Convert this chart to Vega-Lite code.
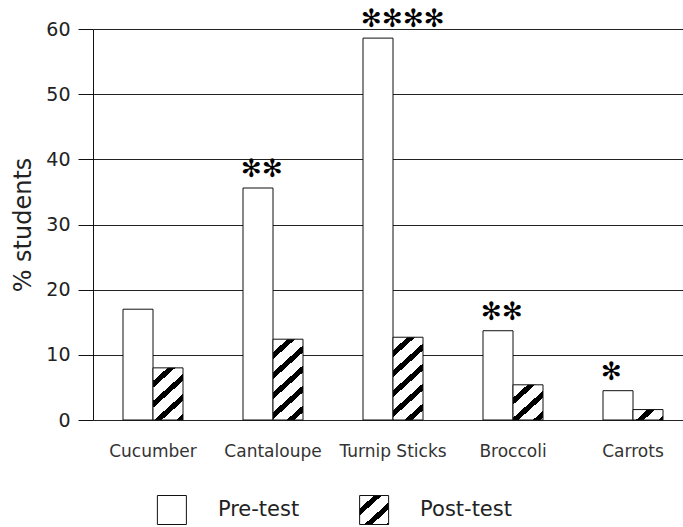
{
  "$schema": "https://vega.github.io/schema/vega-lite/v6.json",
  "background": "white",
  "padding": {"left": 11, "top": 7, "right": 0, "bottom": 0},
  "config": {
    "font": "DejaVu Sans",
    "view": {"stroke": null}
  },
  "bounds": "flush",
  "spacing": 75,
  "vconcat": [
    {
      "width": 600,
      "height": 391,
      "data": {
        "values": [
          {"food": "Cucumber", "test": "Pre-test", "pct": 17},
          {"food": "Cucumber", "test": "Post-test", "pct": 8},
          {"food": "Cantaloupe", "test": "Pre-test", "pct": 35.6, "sig": "✻✻"},
          {"food": "Cantaloupe", "test": "Post-test", "pct": 12.4},
          {"food": "Turnip Sticks", "test": "Pre-test", "pct": 58.6, "sig": "✻✻✻✻"},
          {"food": "Turnip Sticks", "test": "Post-test", "pct": 12.7},
          {"food": "Broccoli", "test": "Pre-test", "pct": 13.7, "sig": "✻✻"},
          {"food": "Broccoli", "test": "Post-test", "pct": 5.4},
          {"food": "Carrots", "test": "Pre-test", "pct": 4.5, "sig": "✻"},
          {"food": "Carrots", "test": "Post-test", "pct": 1.6}
        ]
      },
      "encoding": {
        "x": {
          "field": "food",
          "type": "nominal",
          "sort": null,
          "scale": {"paddingInner": 0.5, "paddingOuter": 0.25},
          "axis": {
            "title": null,
            "domain": false,
            "ticks": false,
            "labelAngle": 0,
            "labelFontSize": 17,
            "labelColor": "#333",
            "labelPadding": 23
          }
        },
        "xOffset": {
          "field": "test",
          "type": "nominal",
          "scale": {"domain": ["Pre-test", "Post-test"], "paddingInner": 0, "paddingOuter": 0}
        },
        "y": {
          "field": "pct",
          "type": "quantitative",
          "scale": {"domain": [0, 60], "nice": false},
          "axis": {
            "title": "% students",
            "titleFontSize": 24,
            "titleFontWeight": "normal",
            "titleColor": "#222",
            "titlePadding": 10,
            "values": [0, 10, 20, 30, 40, 50, 60],
            "labelFontSize": 19,
            "labelColor": "#222",
            "labelPadding": 8,
            "tickSize": 15,
            "tickColor": "#111",
            "domainColor": "#111",
            "grid": true,
            "gridColor": "#222",
            "gridOpacity": 1
          }
        }
      },
      "layer": [
        {
          "mark": {"type": "bar", "stroke": "#111", "strokeWidth": 1},
          "encoding": {
            "fill": {
              "condition": [
                {"test": "datum.test === 'Pre-test'", "value": "white"},
                {
                  "test": "datum.food === 'Cucumber'",
                  "value": {
                    "gradient": "linear", "x1": 0, "y1": 0, "x2": 0.6199, "y2": 1.1969,
                    "stops": [
                      {"offset": 0, "color": "white"}, {"offset": 0.1643, "color": "white"},
                      {"offset": 0.1643, "color": "black"}, {"offset": 0.2527, "color": "black"},
                      {"offset": 0.2527, "color": "white"}, {"offset": 0.417, "color": "white"},
                      {"offset": 0.417, "color": "black"}, {"offset": 0.5055, "color": "black"},
                      {"offset": 0.5055, "color": "white"}, {"offset": 0.6698, "color": "white"},
                      {"offset": 0.6698, "color": "black"}, {"offset": 0.7582, "color": "black"},
                      {"offset": 0.7582, "color": "white"}, {"offset": 0.9225, "color": "white"},
                      {"offset": 0.9225, "color": "black"}, {"offset": 1, "color": "black"}
                    ]
                  }
                },
                {
                  "test": "datum.food === 'Cantaloupe'",
                  "value": {
                    "gradient": "linear", "x1": 0, "y1": 0, "x2": 0.401, "y2": 1.2001,
                    "stops": [
                      {"offset": 0, "color": "white"}, {"offset": 0.1206, "color": "white"},
                      {"offset": 0.1206, "color": "black"}, {"offset": 0.1855, "color": "black"},
                      {"offset": 0.1855, "color": "white"}, {"offset": 0.3061, "color": "white"},
                      {"offset": 0.3061, "color": "black"}, {"offset": 0.371, "color": "black"},
                      {"offset": 0.371, "color": "white"}, {"offset": 0.4916, "color": "white"},
                      {"offset": 0.4916, "color": "black"}, {"offset": 0.5565, "color": "black"},
                      {"offset": 0.5565, "color": "white"}, {"offset": 0.6771, "color": "white"},
                      {"offset": 0.6771, "color": "black"}, {"offset": 0.742, "color": "black"},
                      {"offset": 0.742, "color": "white"}, {"offset": 0.8626, "color": "white"},
                      {"offset": 0.8626, "color": "black"}, {"offset": 0.9276, "color": "black"},
                      {"offset": 0.9276, "color": "white"}, {"offset": 1, "color": "white"}
                    ]
                  }
                },
                {
                  "test": "datum.food === 'Turnip Sticks'",
                  "value": {
                    "gradient": "linear", "x1": 0, "y1": 0, "x2": 0.3911, "y2": 1.1987,
                    "stops": [
                      {"offset": 0, "color": "white"}, {"offset": 0.1184, "color": "white"},
                      {"offset": 0.1184, "color": "black"}, {"offset": 0.1822, "color": "black"},
                      {"offset": 0.1822, "color": "white"}, {"offset": 0.3007, "color": "white"},
                      {"offset": 0.3007, "color": "black"}, {"offset": 0.3644, "color": "black"},
                      {"offset": 0.3644, "color": "white"}, {"offset": 0.4829, "color": "white"},
                      {"offset": 0.4829, "color": "black"}, {"offset": 0.5466, "color": "black"},
                      {"offset": 0.5466, "color": "white"}, {"offset": 0.6651, "color": "white"},
                      {"offset": 0.6651, "color": "black"}, {"offset": 0.7289, "color": "black"},
                      {"offset": 0.7289, "color": "white"}, {"offset": 0.8473, "color": "white"},
                      {"offset": 0.8473, "color": "black"}, {"offset": 0.9111, "color": "black"},
                      {"offset": 0.9111, "color": "white"}, {"offset": 1, "color": "white"}
                    ]
                  }
                },
                {
                  "test": "datum.food === 'Broccoli'",
                  "value": {
                    "gradient": "linear", "x1": 0, "y1": 0, "x2": 0.8535, "y2": 1.1124,
                    "stops": [
                      {"offset": 0, "color": "white"}, {"offset": 0.209, "color": "white"},
                      {"offset": 0.209, "color": "black"}, {"offset": 0.3216, "color": "black"},
                      {"offset": 0.3216, "color": "white"}, {"offset": 0.5306, "color": "white"},
                      {"offset": 0.5306, "color": "black"}, {"offset": 0.6432, "color": "black"},
                      {"offset": 0.6432, "color": "white"}, {"offset": 0.8522, "color": "white"},
                      {"offset": 0.8522, "color": "black"}, {"offset": 0.9648, "color": "black"},
                      {"offset": 0.9648, "color": "white"}, {"offset": 1, "color": "white"}
                    ]
                  }
                }
              ],
              "value": {
                "gradient": "linear", "x1": 0, "y1": 0, "x2": 1.2063, "y2": 0.466,
                "stops": [
                  {"offset": 0, "color": "white"}, {"offset": 0.3473, "color": "white"},
                  {"offset": 0.3473, "color": "black"}, {"offset": 0.5343, "color": "black"},
                  {"offset": 0.5343, "color": "white"}, {"offset": 0.8816, "color": "white"},
                  {"offset": 0.8816, "color": "black"}, {"offset": 1, "color": "black"}
                ]
              }
            }
          }
        },
        {
          "transform": [{"filter": "datum.sig"}],
          "mark": {
            "type": "text",
            "align": "left",
            "baseline": "middle",
            "dx": -17,
            "dy": -19,
            "fontSize": 25,
            "color": "black"
          },
          "encoding": {"text": {"field": "sig"}}
        }
      ]
    },
    {
      "width": 360,
      "height": 30,
      "data": {"values": [{"entry": "Pre-test"}, {"entry": "Post-test"}]},
      "encoding": {
        "x": {
          "field": "entry",
          "type": "nominal",
          "sort": null,
          "scale": {"type": "point", "padding": 0.39},
          "axis": null
        }
      },
      "layer": [
        {
          "mark": {"type": "square", "size": 841, "filled": true, "opacity": 1, "stroke": "#111", "strokeWidth": 1},
          "encoding": {
            "fill": {
              "condition": {"test": "datum.entry === 'Pre-test'", "value": "white"},
              "value": {
                "gradient": "linear", "x1": 0, "y1": 0, "x2": 0.9448, "y2": 1.0497,
                "stops": [
                  {"offset": 0, "color": "white"}, {"offset": 0.2359, "color": "white"},
                  {"offset": 0.2359, "color": "black"}, {"offset": 0.363, "color": "black"},
                  {"offset": 0.363, "color": "white"}, {"offset": 0.5989, "color": "white"},
                  {"offset": 0.5989, "color": "black"}, {"offset": 0.726, "color": "black"},
                  {"offset": 0.726, "color": "white"}, {"offset": 0.9619, "color": "white"},
                  {"offset": 0.9619, "color": "black"}, {"offset": 1, "color": "black"}
                ]
              }
            }
          }
        },
        {
          "mark": {"type": "text", "align": "left", "baseline": "middle", "dx": 46, "fontSize": 21, "color": "#222"},
          "encoding": {"text": {"field": "entry"}}
        }
      ]
    }
  ]
}
